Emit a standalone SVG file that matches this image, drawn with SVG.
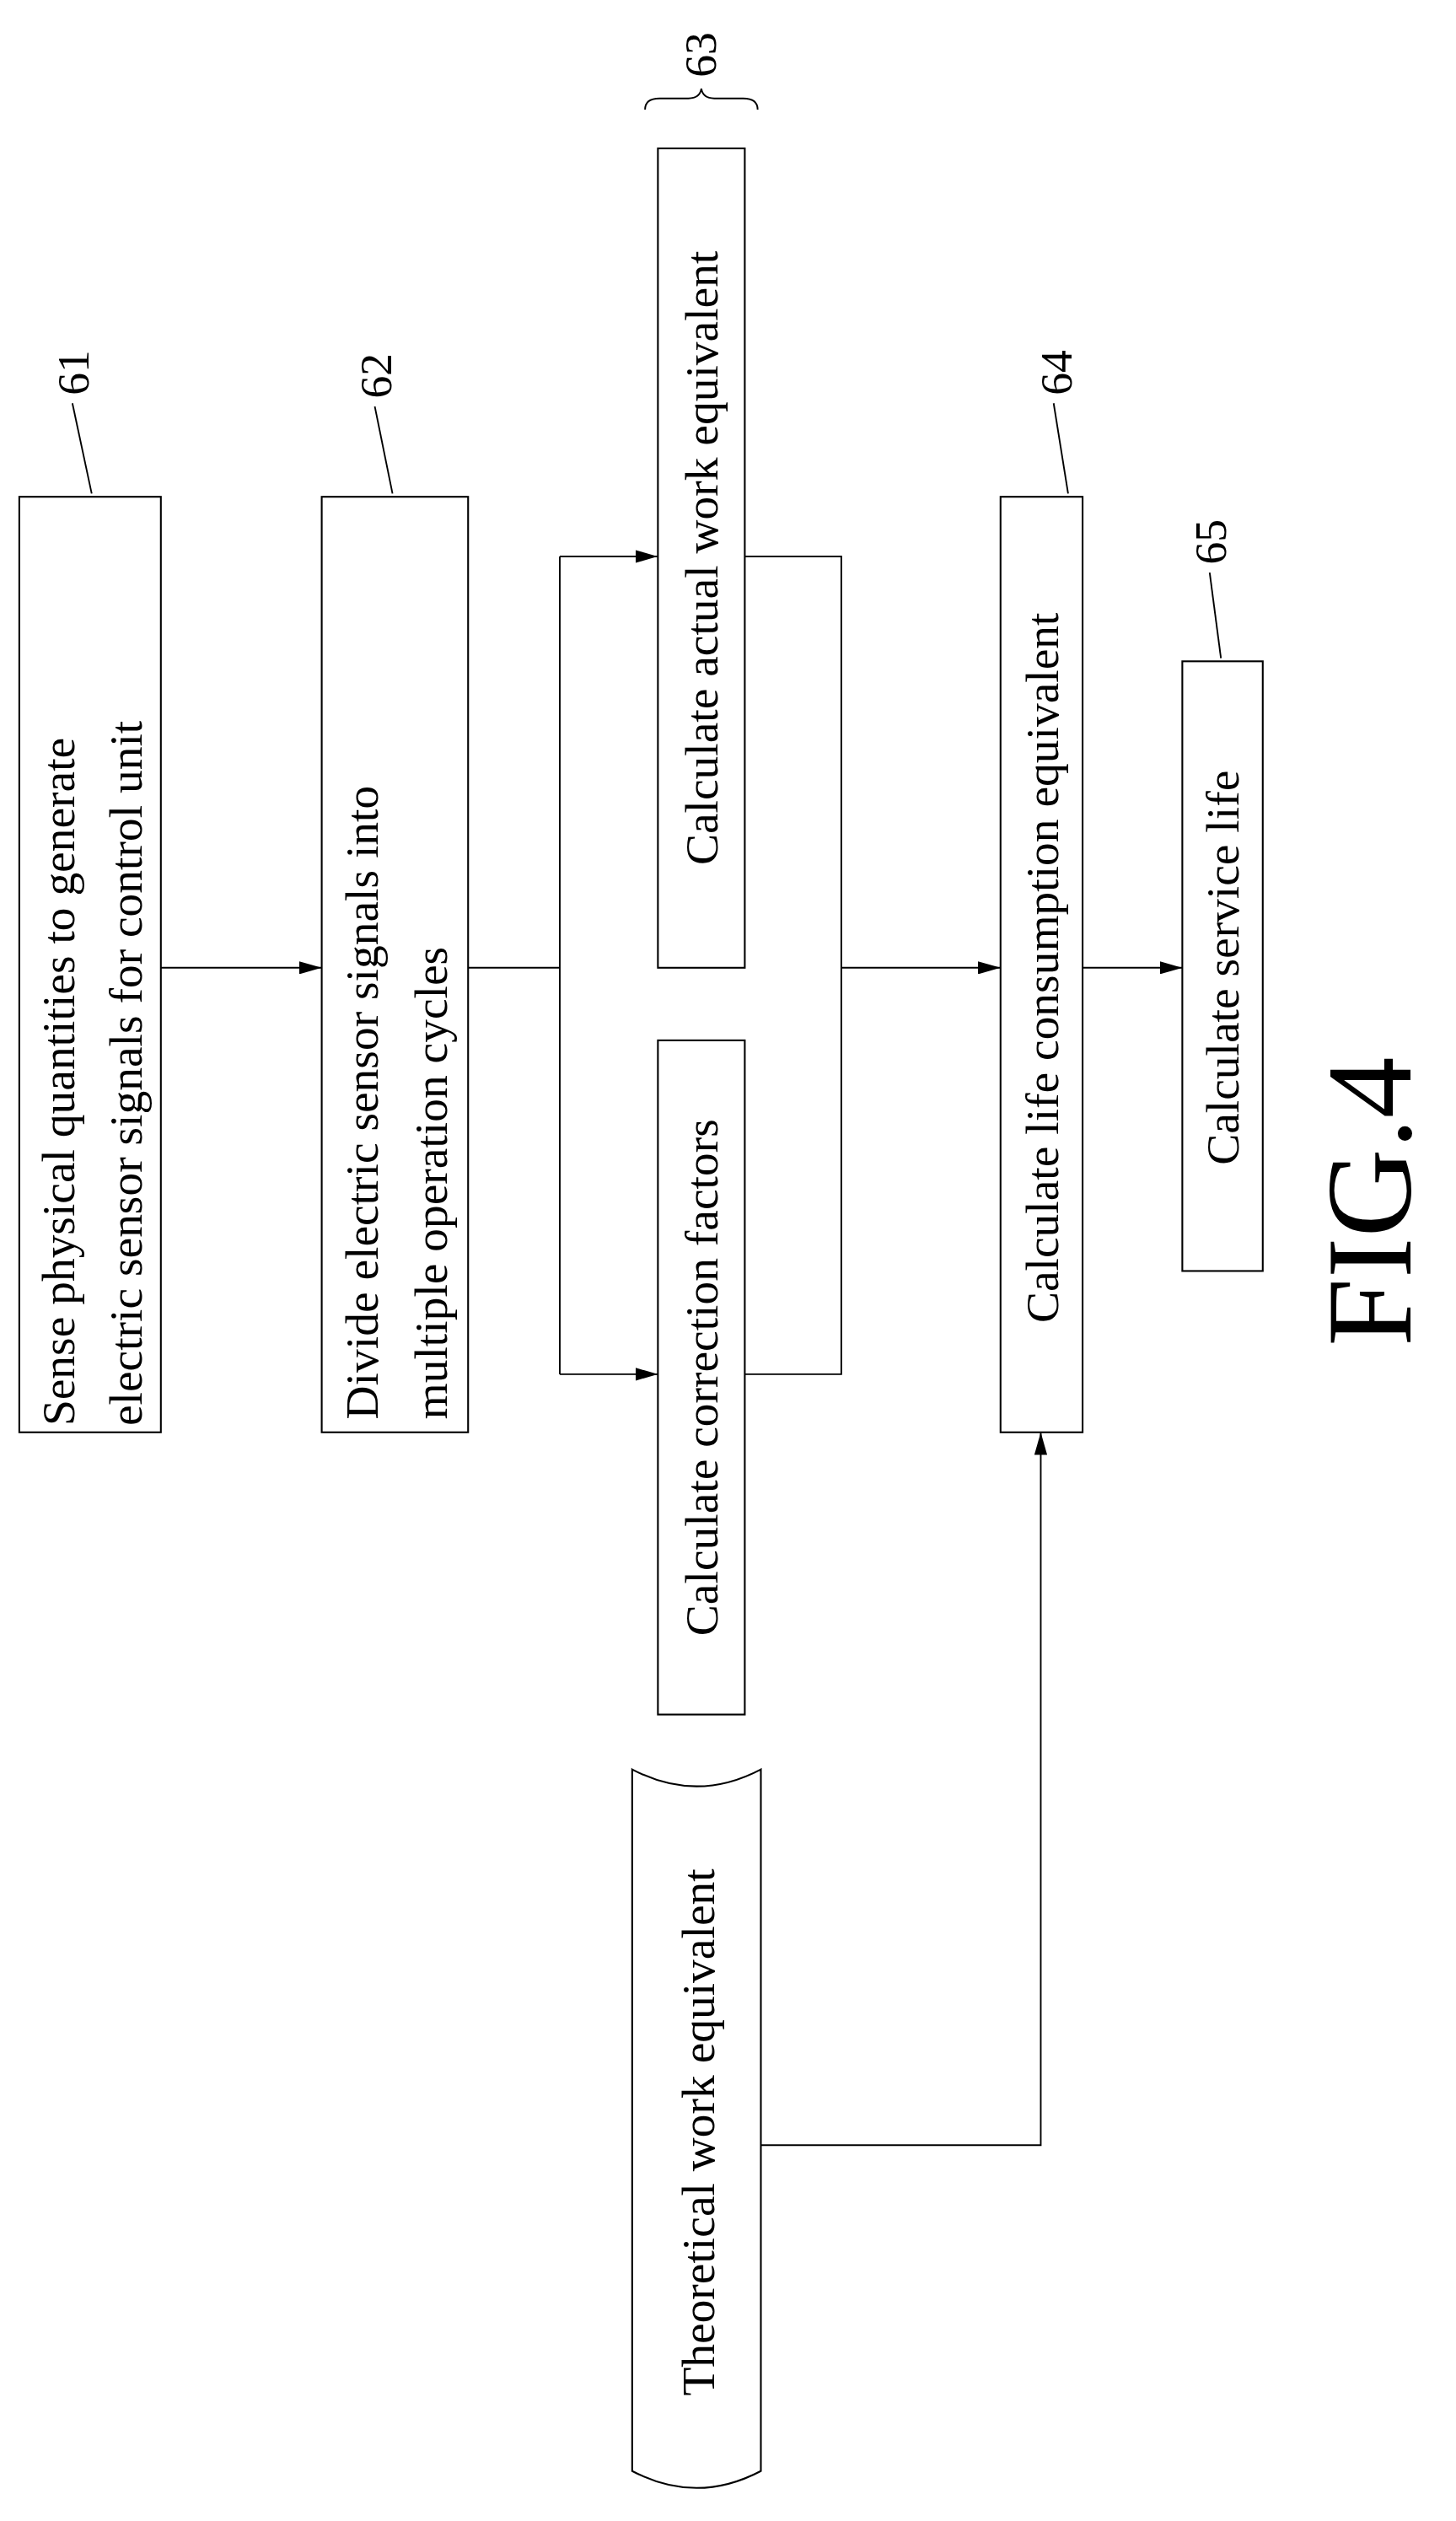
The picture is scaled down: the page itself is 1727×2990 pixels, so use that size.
<svg xmlns="http://www.w3.org/2000/svg" width="1727" height="2990" viewBox="0 0 1727 2990">
<style>
.b{fill:#fff;stroke:#000;stroke-width:1.1}
.l{fill:none;stroke:#000;stroke-width:1}
text{font-family:"Liberation Serif","Times New Roman",serif;font-size:29px;fill:#000}
.n{font-size:28px}
</style>
<defs><marker id="a" markerWidth="14" markerHeight="8" refX="14" refY="4" orient="auto" markerUnits="userSpaceOnUse"><path d="M0,0 L14,4 L0,8 Z" fill="#000"/></marker></defs>
<rect width="1727" height="2990" fill="#fff"/>
<g transform="scale(1.908 1.913)">
<g id="n61"><rect class="b" x="12" y="308" width="88" height="580"/>
<text transform="translate(46,884) rotate(-90)">Sense physical quantities to generate</text>
<text transform="translate(88,884) rotate(-90)">electric sensor signals for control unit</text>
<path class="l" d="M57,306 L45,250"/><text class="n" transform="translate(55,245) rotate(-90)">61</text></g>
<g id="n62"><rect class="b" x="200" y="308" width="91" height="580"/>
<text transform="translate(235,880) rotate(-90)">Divide electric sensor signals into</text>
<text transform="translate(278,880) rotate(-90)">multiple operation cycles</text>
<path class="l" d="M244,306 L233,252"/><text class="n" transform="translate(243,247) rotate(-90)">62</text></g>
<g id="n63a"><rect class="b" x="409" y="92" width="54" height="508"/>
<text text-anchor="middle" transform="translate(446,346) rotate(-90)">Calculate actual work equivalent</text></g>
<g id="n63b"><rect class="b" x="409" y="645" width="54" height="418"/>
<text text-anchor="middle" transform="translate(446,854) rotate(-90)">Calculate correction factors</text></g>
<g id="n63"><path class="l" d="M401,68 Q401,61 410,61 L428,61 Q435,61 436,55 Q437,61 444,61 L462,61 Q471,61 471,68"/>
<text class="n" transform="translate(445,48) rotate(-90)">63</text></g>
<g id="n64"><rect class="b" x="622" y="308" width="51" height="580"/>
<text text-anchor="middle" transform="translate(658,600) rotate(-90)">Calculate life consumption equivalent</text>
<path class="l" d="M664,306 L655,250"/><text class="n" transform="translate(666,245) rotate(-90)">64</text></g>
<g id="n65"><rect class="b" x="735" y="410" width="50" height="378"/>
<text text-anchor="middle" transform="translate(770,600) rotate(-90)">Calculate service life</text>
<path class="l" d="M759,408 L752,355"/><text class="n" transform="translate(762,350) rotate(-90)">65</text></g>
<g id="tw"><path class="b" d="M393,1097 Q433,1118 473,1097 L473,1532 Q433,1553 393,1532 Z"/>
<text text-anchor="middle" transform="translate(444,1322) rotate(-90)">Theoretical work equivalent</text></g>
<g id="connectors">
<path class="l" d="M100,600 L200,600" marker-end="url(#a)"/>
<path class="l" d="M291,600 L348,600 M348,345 L348,852"/>
<path class="l" d="M348,345 L409,345" marker-end="url(#a)"/>
<path class="l" d="M348,852 L409,852" marker-end="url(#a)"/>
<path class="l" d="M463,345 L523,345 L523,852 L463,852"/>
<path class="l" d="M523,600 L622,600" marker-end="url(#a)"/>
<path class="l" d="M673,600 L735,600" marker-end="url(#a)"/>
<path class="l" d="M473,1330 L647,1330 L647,888" marker-end="url(#a)"/>
</g>
<text style="font-size:76px" text-anchor="middle" transform="translate(877,745) rotate(-90)">FIG.4</text>
</g>
</svg>
